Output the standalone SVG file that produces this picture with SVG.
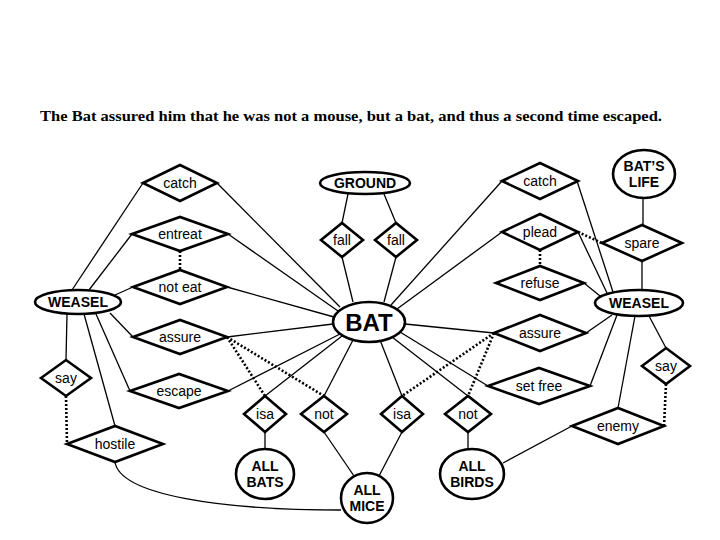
<svg xmlns="http://www.w3.org/2000/svg" width="720" height="540" viewBox="0 0 720 540">
<style>
.n{fill:#fff;stroke:#000;stroke-width:2.6}
.c{stroke:#000;stroke-width:1.3;fill:none}
.d{stroke:#000;stroke-width:2.6;stroke-dasharray:2 2;fill:none}
.t{font-family:"Liberation Sans",Arial,sans-serif;font-size:14px;text-anchor:middle;fill:#000}
.b{font-weight:bold}
</style>
<rect width="720" height="540" fill="#fff"/>
<text x="40" y="121" font-family="'Liberation Serif',serif" font-weight="bold" font-size="14" textLength="622" lengthAdjust="spacingAndGlyphs">The Bat assured him that he was not a mouse, but a bat, and thus a second time escaped.</text>
<g id="connectors">
<line class="c" x1="72" y1="290" x2="143" y2="183"/>
<line class="c" x1="89" y1="290" x2="132" y2="234"/>
<line class="c" x1="115" y1="295" x2="133" y2="287"/>
<line class="c" x1="110" y1="313" x2="133" y2="337"/>
<line class="c" x1="96" y1="314" x2="130" y2="391"/>
<line class="c" x1="84" y1="314" x2="115" y2="426"/>
<line class="c" x1="67" y1="314" x2="66" y2="360"/>
<line class="c" x1="217" y1="183" x2="340" y2="307"/>
<line class="c" x1="228" y1="234" x2="338" y2="311"/>
<line class="c" x1="227" y1="287" x2="334" y2="317"/>
<line class="c" x1="227" y1="337" x2="333" y2="324"/>
<line class="c" x1="228" y1="391" x2="340" y2="334"/>
<line class="c" x1="265" y1="396" x2="342" y2="336"/>
<line class="c" x1="324" y1="396" x2="353" y2="340"/>
<line class="c" x1="402" y1="396" x2="380" y2="340"/>
<line class="c" x1="468" y1="396" x2="392" y2="337"/>
<line class="c" x1="488" y1="386" x2="400" y2="332"/>
<line class="c" x1="494" y1="333" x2="405" y2="324"/>
<line class="c" x1="502" y1="232" x2="397" y2="309"/>
<line class="c" x1="502" y1="181" x2="391" y2="305"/>
<line class="c" x1="342" y1="257" x2="353" y2="302"/>
<line class="c" x1="396" y1="257" x2="384" y2="302"/>
<line class="c" x1="348" y1="194" x2="342" y2="223"/>
<line class="c" x1="384" y1="194" x2="396" y2="223"/>
<line class="c" x1="265" y1="432" x2="265" y2="449"/>
<line class="c" x1="324" y1="432" x2="354" y2="476"/>
<line class="c" x1="402" y1="432" x2="379" y2="476"/>
<line class="c" x1="468" y1="432" x2="468" y2="449"/>
<line class="c" x1="503" y1="463" x2="572" y2="426"/>
<path class="c" d="M115,462 C120,495 220,510 341,510"/>
<line class="c" x1="577" y1="181" x2="613" y2="292"/>
<line class="c" x1="578" y1="232" x2="607" y2="293"/>
<line class="c" x1="584" y1="283" x2="600" y2="296"/>
<line class="c" x1="586" y1="333" x2="612" y2="315"/>
<line class="c" x1="590" y1="386" x2="617" y2="315"/>
<line class="c" x1="618" y1="408" x2="635" y2="316"/>
<line class="c" x1="666" y1="348" x2="649" y2="316"/>
<line class="c" x1="642" y1="261" x2="642" y2="290"/>
<line class="c" x1="643" y1="225" x2="643" y2="198"/>
<line class="d" x1="180" y1="251" x2="180" y2="270"/>
<line class="d" x1="66" y1="396" x2="67" y2="444"/>
<line class="d" x1="227" y1="337" x2="265" y2="396"/>
<line class="d" x1="227" y1="337" x2="324" y2="396"/>
<line class="d" x1="494" y1="333" x2="402" y2="396"/>
<line class="d" x1="494" y1="333" x2="468" y2="396"/>
<line class="d" x1="540" y1="250" x2="540" y2="266"/>
<line class="d" x1="578" y1="232" x2="602" y2="243"/>
<line class="d" x1="666" y1="384" x2="664" y2="426"/>
</g>
<g id="catchL"><polygon class="n" points="143,183 180,165 217,183 180,201"/><text class="t" x="180" y="188">catch</text></g>
<g id="entreat"><polygon class="n" points="132,234 180,217 228,234 180,251"/><text class="t" x="180" y="239">entreat</text></g>
<g id="noteat"><polygon class="n" points="133,287 180,270 227,287 180,304"/><text class="t" x="180" y="292">not eat</text></g>
<g id="weaselL"><ellipse class="n" cx="78" cy="302" rx="43" ry="12"/><text class="t b" x="78" y="307">WEASEL</text></g>
<g id="assureL"><polygon class="n" points="133,337 180,320 227,337 180,354"/><text class="t" x="180" y="342">assure</text></g>
<g id="escape"><polygon class="n" points="130,391 179,374 228,391 179,408"/><text class="t" x="179" y="396">escape</text></g>
<g id="sayL"><polygon class="n" points="41,378 66,360 91,378 66,396"/><text class="t" x="66" y="383">say</text></g>
<g id="hostile"><polygon class="n" points="67,444 115,426 163,444 115,462"/><text class="t" x="115" y="449">hostile</text></g>
<g id="isaL"><polygon class="n" points="244,414 265,396 286,414 265,432"/><text class="t" x="265" y="419">isa</text></g>
<g id="notL"><polygon class="n" points="301,414 324,396 347,414 324,432"/><text class="t" x="324" y="419">not</text></g>
<g id="allbats"><ellipse class="n" cx="265" cy="474" rx="29" ry="25"/><text class="t b" x="265" y="471">ALL</text><text class="t b" x="265" y="487">BATS</text></g>
<g id="allmice"><ellipse class="n" cx="367" cy="498" rx="26" ry="25"/><text class="t b" x="367" y="495">ALL</text><text class="t b" x="367" y="511">MICE</text></g>
<g id="isaR"><polygon class="n" points="381,414 402,396 423,414 402,432"/><text class="t" x="402" y="419">isa</text></g>
<g id="notR"><polygon class="n" points="445,414 468,396 491,414 468,432"/><text class="t" x="468" y="419">not</text></g>
<g id="allbirds"><ellipse class="n" cx="472" cy="474" rx="32" ry="25"/><text class="t b" x="472" y="471">ALL</text><text class="t b" x="472" y="487">BIRDS</text></g>
<g id="bat"><ellipse class="n" cx="369" cy="322" rx="36" ry="20"/><text class="t b" x="369" y="331" style="font-size:24px">BAT</text></g>
<g id="ground"><ellipse class="n" cx="365" cy="183" rx="45" ry="11"/><text class="t b" x="365" y="188">GROUND</text></g>
<g id="fallL"><polygon class="n" points="321,240 342,223 363,240 342,257"/><text class="t" x="342" y="245">fall</text></g>
<g id="fallR"><polygon class="n" points="375,240 396,223 417,240 396,257"/><text class="t" x="396" y="245">fall</text></g>
<g id="catchR"><polygon class="n" points="502,181 540,163 578,181 540,199"/><text class="t" x="540" y="186">catch</text></g>
<g id="plead"><polygon class="n" points="502,232 540,214 578,232 540,250"/><text class="t" x="540" y="237">plead</text></g>
<g id="refuse"><polygon class="n" points="496,283 540,266 584,283 540,300"/><text class="t" x="540" y="288">refuse</text></g>
<g id="batslife"><ellipse class="n" cx="644" cy="174" rx="31" ry="24"/><text class="t b" x="644" y="171">BAT’S</text><text class="t b" x="644" y="187">LIFE</text></g>
<g id="spare"><polygon class="n" points="602,243 642,225 682,243 642,261"/><text class="t" x="642" y="248">spare</text></g>
<g id="weaselR"><ellipse class="n" cx="639" cy="303" rx="44" ry="13"/><text class="t b" x="639" y="308">WEASEL</text></g>
<g id="assureR"><polygon class="n" points="494,333 540,315 586,333 540,351"/><text class="t" x="540" y="338">assure</text></g>
<g id="setfree"><polygon class="n" points="488,386 539,368 590,386 539,404"/><text class="t" x="539" y="391">set free</text></g>
<g id="sayR"><polygon class="n" points="642,366 666,348 690,366 666,384"/><text class="t" x="666" y="371">say</text></g>
<g id="enemy"><polygon class="n" points="572,426 618,408 664,426 618,444"/><text class="t" x="618" y="426" dy="5">enemy</text></g>
</svg>
